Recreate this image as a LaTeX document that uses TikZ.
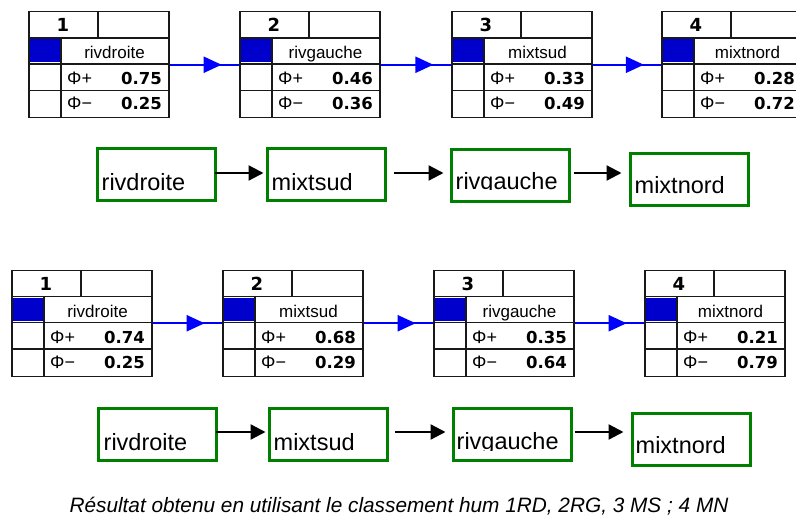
\documentclass[tikz,border=0pt]{standalone}
\usepackage{fontspec}
\setmainfont{Liberation Sans}
\newfontfamily\numfont{DejaVu Sans}
\usetikzlibrary{arrows.meta,decorations.markings,calc}
\definecolor{gcol}{RGB}{0,128,0}
\definecolor{sqblue}{RGB}{0,0,204}
\definecolor{arblue}{RGB}{0,0,255}
\definecolor{tcol}{RGB}{25,25,25}
\tikzset{
 tbl/.style={draw=tcol, line width=1.5pt, minimum width=140pt, minimum height=106pt, inner sep=0pt, anchor=north west},
 tline/.style={draw=tcol, line width=1.4pt},
 hdr/.style={font=\numfont\bfseries\fontsize{18}{18}\selectfont, inner sep=0pt, anchor=base},
 tlab/.style={font=\fontsize{17}{17}\selectfont, inner sep=0pt, anchor=base},
 tphi/.style={font=\fontsize{18}{18}\selectfont, inner sep=0pt, anchor=base west},
 tnum/.style={font=\numfont\bfseries\fontsize{16.5}{16.5}\selectfont, inner sep=0pt, anchor=base east},
 barblue/.style={color=arblue, line width=2.2pt, postaction={decorate},
   decoration={markings, mark=at position 0.75 with {\arrow{Triangle[length=18pt,width=16pt]}}}},
 gbox/.style={draw=gcol, line width=3pt, minimum width=118pt, minimum height=52pt, inner sep=0pt},
 gtext/.style={font=\fontsize{23.5}{23.5}\selectfont, inner sep=0pt, anchor=base west},
 barrow/.style={draw=black, line width=2.3pt, -{Triangle[length=15pt,width=15pt]}},
 captext/.style={font=\itshape\fontsize{20.8}{20.8}\selectfont, inner sep=0pt, anchor=base},
}
\newcommand\rtab[7]{%
 \node[tbl] (#1) at (#2,#3) {};
 \fill[sqblue] ({#2+2},{#3+28.5}) rectangle ({#2+32},{#3+51.5});
 \draw[tline] ({#2},{#3+27}) -- ({#2+140},{#3+27})
   ({#2},{#3+53}) -- ({#2+140},{#3+53})
   ({#2},{#3+79.5}) -- ({#2+140},{#3+79.5})
   ({#2+70},{#3}) -- ({#2+70},{#3+27})
   ({#2+33},{#3+27}) -- ({#2+33},{#3+106});
 \node[hdr] (#1n) at ({#2+35},{#3+20.5}) {#4};
 \node[tlab] (#1l) at ({#2+86.5},{#3+47.5}) {#5};
 \node[tphi] (#1p) at ({#2+39},{#3+73.7}) {Φ+};
 \node[tnum] (#1v) at ({#2+134},{#3+73.7}) {#6};
 \node[tphi] (#1q) at ({#2+39},{#3+99}) {Φ−};
 \node[tnum] (#1w) at ({#2+134},{#3+99}) {#7};
}
\begin{document}
\begin{tikzpicture}[x=1pt,y=-1pt]
\useasboundingbox[fill=white] (0,0) rectangle (796,519);
% top tables
\rtab{ta}{28}{11}{1}{rivdroite}{0.75}{0.25}
\rtab{tb}{239}{11}{2}{rivgauche}{0.46}{0.36}
\rtab{tc}{451}{11}{3}{mixtsud}{0.33}{0.49}
\rtab{td}{661}{11}{4}{mixtnord}{0.28}{0.72}
\draw[barblue] (ta.east) -- (tb.west);
\draw[barblue] (tb.east) -- (tc.west);
\draw[barblue] (tc.east) -- (td.west);
% bottom tables
\rtab{te}{11}{269.5}{1}{rivdroite}{0.74}{0.25}
\rtab{tf}{222}{269.5}{2}{mixtsud}{0.68}{0.29}
\rtab{tg}{433}{269.5}{3}{rivgauche}{0.35}{0.64}
\rtab{th}{644}{269.5}{4}{mixtnord}{0.21}{0.79}
\draw[barblue] (te.east) -- (tf.west);
\draw[barblue] (tf.east) -- (tg.west);
\draw[barblue] (tg.east) -- (th.west);
% top green boxes
\node[gbox] (g1) at (156.5,174) {};
\node[gbox] (g2) at (326.5,174) {};
\node[gbox] (g3) at (510.5,175) {};
\node[gbox] (g4) at (689.5,179.5) {};
\node[gtext] (g1t) at (101.5,190) {rivdroite};
\node[gtext] (g2t) at (271.5,190) {mixtsud};
\begin{scope}
\clip (440,140) rectangle (580,189.6);
\node[gtext] (g3t) at (455.5,189) {rivgauche};
\end{scope}
\node[gtext] (g4t) at (634.5,193) {mixtnord};
\draw[barrow, shorten <=-2.5pt, shorten >=2.5pt] ([yshift=1pt]g1.east) -- ([yshift=1pt]g2.west);
\draw[barrow, shorten <=6.5pt, shorten >=6.5pt] ([yshift=1pt]g2.east) -- ([yshift=2pt]g3.west);
\draw[barrow, shorten <=2.5pt, shorten >=7.5pt] ([yshift=2pt]g3.east) -- ([yshift=6.5pt]g4.west);
% bottom green boxes
\node[gbox] (g5) at (157.5,434.5) {};
\node[gbox] (g6) at (328,434.5) {};
\node[gbox] (g7) at (512.5,434.5) {};
\node[gbox] (g8) at (691.5,439.5) {};
\node[gtext] (g5t) at (103.5,450) {rivdroite};
\node[gtext] (g6t) at (273.5,450) {mixtsud};
\begin{scope}
\clip (440,400) rectangle (580,450);
\node[gtext] (g7t) at (456.5,449.5) {rivgauche};
\end{scope}
\node[gtext] (g8t) at (635.5,453) {mixtnord};
\draw[barrow, shorten <=-2.5pt, shorten >=2pt] ([yshift=2.5pt]g5.east) -- ([yshift=2.5pt]g6.west);
\draw[barrow, shorten <=6pt, shorten >=6.5pt] ([yshift=2.5pt]g6.east) -- ([yshift=2.5pt]g7.west);
\draw[barrow, shorten <=1.5pt, shorten >=7.5pt] ([yshift=2.5pt]g7.east) -- ([yshift=7.5pt]g8.west);
% caption
\node[captext] (cap) at (399,512) {Résultat obtenu en utilisant le classement hum 1RD, 2RG, 3 MS ; 4 MN};
\end{tikzpicture}
\end{document}
